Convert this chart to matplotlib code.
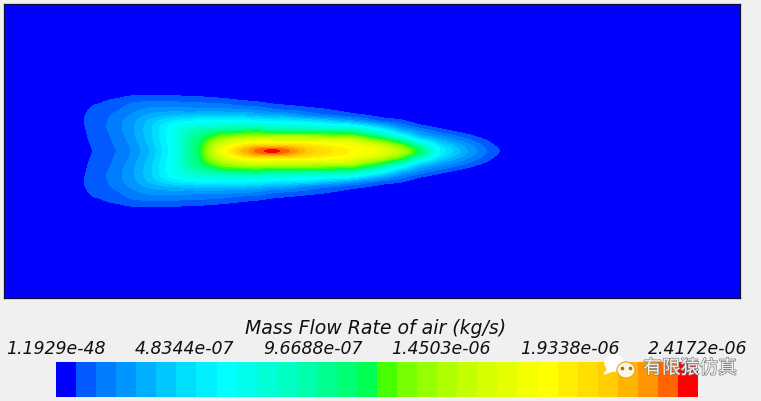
import matplotlib
matplotlib.use("Agg")
import matplotlib.pyplot as plt
import matplotlib.patheffects as pe
from matplotlib.colors import ListedColormap
from matplotlib.patches import Ellipse, Polygon
import numpy as np

BG = "#f0f0f0"
max_flow = 2.4172e-06
n_bands = 32
title = "Mass Flow Rate of air (kg/s)"
tick_values = [1.1929e-48, 4.8344e-07, 9.6688e-07, 1.4503e-06, 1.9338e-06, 2.4172e-06]

band_colors = [
    (0, 0, 255), (0, 90, 255), (0, 125, 255), (0, 150, 255),
    (0, 175, 255), (0, 200, 255), (0, 222, 255), (0, 240, 255),
    (0, 255, 255), (0, 255, 235), (0, 255, 215), (0, 255, 195),
    (0, 255, 170), (0, 255, 145), (0, 255, 115), (0, 255, 80),
    (70, 255, 0), (120, 255, 0), (150, 255, 0), (175, 255, 0),
    (195, 255, 0), (215, 255, 0), (230, 255, 0), (245, 255, 0),
    (255, 255, 0), (255, 238, 0), (255, 222, 0), (255, 205, 0),
    (255, 180, 0), (255, 150, 0), (255, 100, 0), (255, 0, 0),
]

# field, in colour band units
# rows: distance along the plume, columns: distance from the centre line (both in px)
stations = [80, 84, 88, 93, 110, 120, 130, 150, 170, 190, 202, 212, 223, 240, 257, 272,
            287, 310, 350, 380, 400, 420, 440, 460, 477, 490, 500, 505]
offsets = [0, 2, 5, 10, 15, 20, 25, 30, 35, 40, 45, 50, 55, 60]
band_field = [
    [0, 0, 0, 0, 0, 0, 0, 0, 0, 0, 0, 0, 0, 0],
    [0, 0, 0, 0, 0.2, 0.6, 0.95, 1.05, 0.95, 0.6, 0.1, 0, 0, 0],
    [0.6, 0.6, 0.7, 0.95, 1.2, 1.25, 1.3, 1.3, 1.25, 1.05, 0.6, 0.1, 0, 0],
    [1, 1.05, 1.2, 1.35, 1.5, 1.6, 1.65, 1.65, 1.6, 1.4, 1.1, 0.5, 0, 0],
    [1.65, 1.7, 1.75, 1.85, 1.95, 2.05, 2.1, 2.05, 2.0, 1.7, 1.4, 1.2, 0.5, 0],
    [2.2, 2.2, 2.3, 2.45, 2.7, 2.8, 2.85, 2.8, 2.5, 2.1, 1.75, 1.35, 0.75, 0],
    [2.9, 2.9, 3.0, 3.2, 3.4, 3.5, 3.5, 3.4, 3.1, 2.6, 2.2, 1.8, 1.0, 0.2],
    [5, 5, 5.1, 5.4, 5.6, 5.7, 5.6, 5.3, 4.4, 3.6, 2.7, 1.95, 1.15, 0.35],
    [8.2, 8.2, 8.3, 8.5, 8.6, 8.6, 8.3, 7, 5.2, 3.7, 2.7, 1.9, 1.1, 0.3],
    [13, 13, 13, 12.9, 12.5, 11.5, 9.8, 8, 5.4, 3.6, 2.6, 1.75, 0.9, 0.1],
    [16, 16, 15.8, 15.3, 14.3, 12.5, 10.2, 8.2, 5.5, 3.6, 2.5, 1.7, 0.85, 0],
    [20, 20, 19.5, 17.5, 15.5, 13.3, 10.3, 8.2, 5.5, 3.6, 2.5, 1.6, 0.7, 0],
    [24, 23.5, 22.5, 20, 17.2, 14, 10.5, 8.3, 5.5, 3.6, 2.4, 1.45, 0.6, 0],
    [28, 27.5, 25.5, 22, 18, 14.5, 10.8, 8.4, 5.6, 3.4, 1.95, 1.1, 0.3, 0],
    [31, 30, 28, 23, 18.5, 15, 10.8, 8, 5, 3.2, 1.75, 0.85, 0.1, 0],
    [33, 30.5, 27.5, 23, 18, 14, 10, 7.6, 4.5, 2.35, 1.35, 0.5, 0, 0],
    [31, 30, 27.5, 23, 18, 14, 10, 7.4, 4.4, 2.1, 1.1, 0.25, 0, 0],
    [27.5, 27.2, 26.3, 23, 18, 13.5, 9.5, 7, 2.6, 1.7, 0.7, 0, 0, 0],
    [25, 24.9, 24.2, 21.8, 17.8, 13, 9, 4, 1.5, 0.65, 0, 0, 0, 0],
    [23, 22.8, 21.5, 17.5, 13, 9.3, 5, 1.6, 0.7, 0, 0, 0, 0, 0],
    [20, 19.7, 18, 14, 9, 5, 2.6, 1.2, 0.4, 0, 0, 0, 0, 0],
    [15, 14.5, 12.5, 8, 4.3, 3, 1.1, 0.3, 0, 0, 0, 0, 0, 0],
    [8, 7.8, 6.8, 4.7, 3, 1.45, 0.4, 0, 0, 0, 0, 0, 0, 0],
    [5, 4.8, 4.3, 3, 1.7, 0.6, 0, 0, 0, 0, 0, 0, 0, 0],
    [3, 2.9, 2.5, 1.7, 0.8, 0.1, 0, 0, 0, 0, 0, 0, 0, 0],
    [1.7, 1.6, 1.4, 0.85, 0.2, 0, 0, 0, 0, 0, 0, 0, 0, 0],
    [1.0, 0.9, 0.6, 0.2, 0, 0, 0, 0, 0, 0, 0, 0, 0, 0],
    [0.6, 0.5, 0.3, 0, 0, 0, 0, 0, 0, 0, 0, 0, 0, 0],
]


def regrid(table, xs, ys, new_xs, new_ys):
    table = np.array(table, dtype=float)
    by_x = np.array([np.interp(new_ys, ys, row) for row in table])
    return np.array([np.interp(new_xs, xs, col) for col in by_x.T])


def soften(field, size=7):
    # small blur so the contours do not show the coarse table
    kernel = np.hanning(size + 2)[1:-1]
    kernel = kernel / kernel.sum()
    field = np.apply_along_axis(lambda c: np.convolve(c, kernel, mode="same"), 0, field)
    field = np.apply_along_axis(lambda c: np.convolve(c, kernel, mode="same"), 1, field)
    return field


xs = np.arange(4, 741, 1.0)
ys = np.arange(4, 299, 1.0)
centre_y = 151
field = regrid(band_field, stations, offsets, xs, np.abs(ys - centre_y))
field = soften(field)
field = np.minimum(field, n_bands) * max_flow / n_bands

fig = plt.figure(figsize=(7.61, 4.01), dpi=100, facecolor=BG)
ax = fig.add_axes([4 / 761, (401 - 298) / 401, 736 / 761, 294 / 401])
cmap = ListedColormap([(r / 255, g / 255, b / 255) for r, g, b in band_colors])
levels = np.linspace(0, max_flow, n_bands + 1)
cf = ax.contourf(xs, ys, field, levels=levels, cmap=cmap, antialiased=False)
ax.set_xlim(4, 740)
ax.set_ylim(298, 4)
ax.set_xticks([])
ax.set_yticks([])
for s in ax.spines.values():
    s.set_linewidth(0.9)
    s.set_color("#101030")

cax = fig.add_axes([56 / 761, 4 / 401, 642 / 761, 35 / 401])
cb = fig.colorbar(cf, cax=cax, orientation="horizontal", drawedges=False)
cb.outline.set_visible(False)
cb.set_ticks(tick_values)
cb.set_ticklabels([f"{v:.4e}" for v in tick_values])
cax.xaxis.set_ticks_position("top")
cax.minorticks_off()
cax.tick_params(axis="x", length=0, pad=2.6, labelsize=12.5)
for lab in cax.get_xticklabels():
    lab.set_fontstyle("italic")
    lab.set_color("#101010")
fig.text(376 / 761, 1 - 328 / 401, title, ha="center", va="center",
         fontsize=13.6, fontstyle="italic", color="#101010")

# watermark
overlay = fig.add_axes([0, 0, 1, 1], facecolor="none")
overlay.set_xlim(0, 761)
overlay.set_ylim(401, 0)
overlay.axis("off")
overlay.add_patch(Ellipse((614, 363), 18, 16, color="white", zorder=3))
overlay.add_patch(Polygon([(608, 369), (604, 374), (613, 371)], color="white", zorder=3))
overlay.add_patch(Ellipse((626, 370), 18, 16, facecolor="#fff6e0", edgecolor="#e8a030", lw=0.8, zorder=4))
overlay.plot([622, 630], [368, 368], ls="none", marker="o", ms=1.6, color="#a07020", zorder=5)
overlay.text(690, 368, "有限猿仿真", ha="center", va="center", fontsize=13.5,
             family=["Noto Sans CJK SC", "DejaVu Sans"], color="#f4f4f4", zorder=5,
             path_effects=[pe.withStroke(linewidth=1.0, foreground="#808080")])

fig.savefig("out.png", dpi=100, facecolor=BG)
